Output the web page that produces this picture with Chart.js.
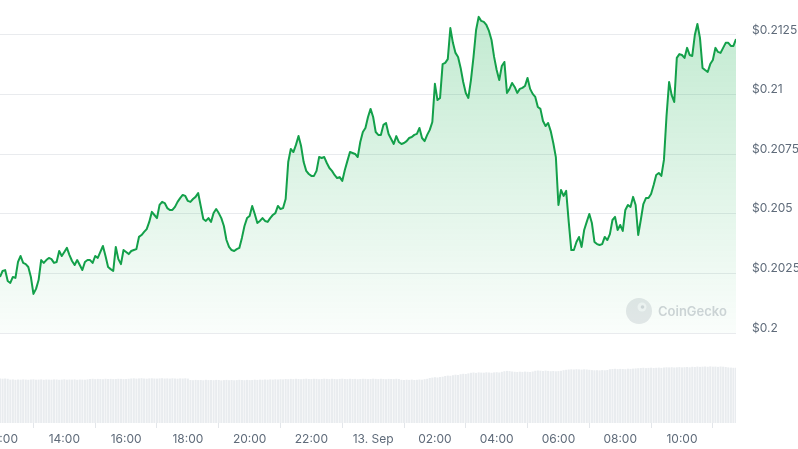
<!DOCTYPE html>
<html>
<head>
<meta charset="utf-8">
<script src="https://cdn.jsdelivr.net/npm/chart.js@4.4.1/dist/chart.umd.min.js"></script>
<style>
  html, body { margin: 0; padding: 0; background: #fff; }
  #wrap { width: 798px; height: 449px; }
</style>
</head>
<body>
<div id="wrap"><canvas id="priceChart" width="798" height="449"></canvas></div>
<script>
// 5-minute points, from 11:55 (12 Sep) to 11:45 (13 Sep), minutes since 12 Sep 00:00
const startMinute = 715;
const stepMinutes = 5;

const prices = [
  0.20235, 0.20260, 0.20264, 0.20218, 0.20210, 0.20235, 0.20231, 0.20298, 0.20323, 0.20294,
  0.20289, 0.20277, 0.20235, 0.20164, 0.20185, 0.20222, 0.20306, 0.20294, 0.20306, 0.20315,
  0.20310, 0.20294, 0.20298, 0.20344, 0.20323, 0.20340, 0.20357, 0.20327, 0.20302, 0.20285,
  0.20306, 0.20285, 0.20264, 0.20298, 0.20306, 0.20306, 0.20294, 0.20323, 0.20315, 0.20340,
  0.20365, 0.20323, 0.20277, 0.20268, 0.20260, 0.20361, 0.20310, 0.20289, 0.20348, 0.20340,
  0.20331, 0.20344, 0.20348, 0.20352, 0.20403, 0.20411, 0.20424, 0.20436, 0.20466, 0.20508,
  0.20495, 0.20482, 0.20537, 0.20550, 0.20545, 0.20524, 0.20516, 0.20516, 0.20529, 0.20550,
  0.20566, 0.20579, 0.20575, 0.20554, 0.20550, 0.20562, 0.20571, 0.20587, 0.20533, 0.20478,
  0.20470, 0.20482, 0.20466, 0.20503, 0.20520, 0.20503, 0.20482, 0.20449, 0.20390, 0.20361,
  0.20348, 0.20344, 0.20352, 0.20357, 0.20399, 0.20449, 0.20482, 0.20491, 0.20533, 0.20499,
  0.20461, 0.20470, 0.20482, 0.20470, 0.20466, 0.20482, 0.20495, 0.20503, 0.20533, 0.20520,
  0.20524, 0.20562, 0.20717, 0.20772, 0.20759, 0.20789, 0.20826, 0.20784, 0.20717, 0.20680,
  0.20667, 0.20659, 0.20659, 0.20680, 0.20738, 0.20734, 0.20738, 0.20713, 0.20692, 0.20680,
  0.20663, 0.20650, 0.20654, 0.20638, 0.20684, 0.20722, 0.20759, 0.20755, 0.20751, 0.20738,
  0.20801, 0.20843, 0.20860, 0.20906, 0.20940, 0.20906, 0.20843, 0.20831, 0.20831, 0.20873,
  0.20881, 0.20835, 0.20814, 0.20793, 0.20826, 0.20801, 0.20793, 0.20797, 0.20805, 0.20818,
  0.20822, 0.20831, 0.20835, 0.20860, 0.20818, 0.20805, 0.20831, 0.20852, 0.20885, 0.21045,
  0.20977, 0.20986, 0.21128, 0.21133, 0.21149, 0.21279, 0.21217, 0.21175, 0.21158, 0.21112,
  0.21053, 0.21007, 0.20986, 0.21061, 0.21158, 0.21271, 0.21326, 0.21309, 0.21305, 0.21292,
  0.21267, 0.21229, 0.21158, 0.21103, 0.21061, 0.21120, 0.21137, 0.21007, 0.21024, 0.21049,
  0.21032, 0.21007, 0.21024, 0.21028, 0.21036, 0.21070, 0.21024, 0.21003, 0.20990, 0.20948,
  0.20940, 0.20889, 0.20868, 0.20881, 0.20847, 0.20797, 0.20738, 0.20537, 0.20600, 0.20575,
  0.20596, 0.20466, 0.20348, 0.20348, 0.20382, 0.20403, 0.20361, 0.20432, 0.20466, 0.20499,
  0.20461, 0.20382, 0.20373, 0.20369, 0.20373, 0.20403, 0.20390, 0.20415, 0.20474, 0.20487,
  0.20432, 0.20453, 0.20428, 0.20516, 0.20537, 0.20529, 0.20571, 0.20537, 0.20411, 0.20474,
  0.20541, 0.20566, 0.20566, 0.20583, 0.20621, 0.20663, 0.20671, 0.20659, 0.20726, 0.20910,
  0.21053, 0.20998, 0.20969, 0.21154, 0.21170, 0.21166, 0.21154, 0.21196, 0.21166, 0.21162,
  0.21250, 0.21296, 0.21238, 0.21112, 0.21103, 0.21095, 0.21128, 0.21145, 0.21196, 0.21179,
  0.21175, 0.21196, 0.21217, 0.21217, 0.21204, 0.21204, 0.21233
];

// volume bars (relative units)
const volumes = [
  44.5, 44.3, 44.5, 44.2,
  43.4, 43.6, 43.2, 43.5, 43.3, 43.6, 43.4, 43.2, 43.5, 43.7, 43.3, 43.4, 43.6, 43.2, 43.5, 43.4,
  43.3, 43.6, 43.5, 43.2, 43.4, 43.7, 43.3, 43.5, 43.4, 43.6, 43.2, 43.5, 43.4, 43.3, 43.6,
  44.0, 44.2, 43.9, 44.1, 44.0, 43.8, 44.2, 44.0, 44.1, 43.9, 44.0, 44.2, 44.1, 43.9, 44.0, 44.2,
  44.5, 44.7, 44.4, 44.6, 44.8, 44.5, 44.3, 44.6, 44.7, 44.5, 44.4, 44.6, 44.8, 44.5, 44.6, 44.4,
  44.7, 44.5, 44.3, 44.6, 44.5, 44.7, 44.4,
  43.0, 42.8, 43.1, 42.9, 43.0, 42.7, 43.2, 42.9, 43.0, 42.8, 43.1, 43.0, 42.6, 42.9, 43.1, 42.8,
  43.0, 42.7, 42.9, 43.2, 43.0, 42.8, 43.1, 42.9, 43.0, 43.3, 43.1, 43.4, 43.2, 43.5, 43.3, 43.6,
  43.4, 43.7, 43.5, 43.8, 43.6,
  44.0, 43.8, 44.1, 43.9, 44.2, 44.0, 43.8, 44.1, 44.3, 44.0, 43.9, 44.2, 44.1, 43.8, 44.0, 44.3,
  44.1, 43.9, 44.2, 44.0, 43.8, 44.1, 44.3, 44.0, 43.9, 44.2, 44.0, 44.1, 43.8, 44.0, 44.2, 44.1,
  43.9, 44.0, 44.3, 44.1, 43.9, 44.2, 44.0, 43.8, 44.1, 44.0, 43.9, 44.2, 44.0,
  43.2, 43.0, 43.3, 43.1, 43.4, 43.0, 43.2, 43.5, 43.3, 43.8, 44.2,
  45.0, 45.4, 45.8, 45.5, 46.0, 46.3,
  47.0, 47.4, 47.2, 47.8, 48.3, 48.0, 48.8, 49.2, 49.0, 49.6,
  50.2, 50.5, 50.1, 50.6, 50.4, 50.3, 50.7, 50.5, 50.2, 50.6, 50.8, 50.5,
  51.2, 51.8, 52.1, 51.9, 51.5, 51.2, 51.0, 51.3, 51.1, 51.4, 51.2, 51.0, 51.5,
  52.2, 52.5, 52.3, 52.0, 52.4, 52.1, 51.8, 52.0, 51.7, 51.9, 52.2, 52.8, 53.2, 53.5,
  53.7, 53.5, 53.8, 53.6, 53.4, 53.7, 53.5, 53.2, 52.9, 52.7, 52.8, 52.6, 52.9, 52.7, 53.0,
  53.8, 54.0, 54.2, 53.9, 54.1, 54.0, 53.8, 54.3, 54.1, 54.4, 54.6, 54.8,
  55.0, 55.2, 54.9, 55.1, 55.3, 55.0, 55.2, 55.4, 55.1, 55.5, 55.7, 55.6, 55.8, 55.5, 55.7, 55.9,
  55.6, 55.8, 56.0, 55.7, 56.2, 56.0, 56.4, 56.1, 56.3, 56.5, 56.2, 56.6, 56.3, 56.4, 56.1, 56.5,
  56.3, 56.0, 55.6, 55.4, 55.2, 55.3
];

const priceTicks = [0.2, 0.2025, 0.205, 0.2075, 0.21, 0.2125];
const timeTicks = [720, 840, 960, 1080, 1200, 1320, 1440, 1560, 1680, 1800, 1920, 2040];
const timeLabels = ['12:00', '14:00', '16:00', '18:00', '20:00', '22:00', '13. Sep', '02:00', '04:00', '06:00', '08:00', '10:00'];

const priceMin = 0.196225;
const priceMax = 0.213968;
const fillBase = 0.2;

Chart.defaults.font.family = 'Inter, "Noto Sans", sans-serif';
Chart.defaults.font.size = 12;
Chart.defaults.color = '#5f6b7a';

// logo + name drawn under the line
const watermark = {
    id: 'watermark',
    beforeDatasetsDraw(chart) {
        const ctx = chart.ctx;
        const cx = chart.chartArea.right - 97;
        const cy = chart.scales.y.getPixelForValue(fillBase) - 22;
        ctx.save();
        ctx.beginPath();
        ctx.arc(cx, cy, 13, 0, Math.PI * 2);
        ctx.fillStyle = '#e6e8eb';
        ctx.fill();
        ctx.beginPath();
        ctx.arc(cx + 3, cy - 4, 4.5, 0, Math.PI * 2);
        ctx.fillStyle = '#f4f5f7';
        ctx.fill();
        ctx.beginPath();
        ctx.arc(cx + 3.5, cy - 4, 1.8, 0, Math.PI * 2);
        ctx.fillStyle = '#d3d6db';
        ctx.fill();
        ctx.font = '600 13px Inter, "Noto Sans", sans-serif';
        ctx.fillStyle = '#d2d5da';
        ctx.textBaseline = 'middle';
        ctx.textAlign = 'left';
        ctx.fillText('CoinGecko', cx + 19, cy + 1);
        ctx.restore();
    }
};

const ctx = document.getElementById('priceChart');

new Chart(ctx, {
    type: 'line',
    data: {
        datasets: [
            {
                type: 'line',
                label: 'Price',
                data: prices.map((p, i) => ({ x: startMinute + i * stepMinutes, y: p })),
                yAxisID: 'y',
                borderColor: '#13a04a',
                borderWidth: 2,
                borderJoinStyle: 'round',
                pointRadius: 0,
                tension: 0,
                fill: { value: fillBase },
                backgroundColor: (context) => {
                    const chart = context.chart;
                    const area = chart.chartArea;
                    if (!area) return 'rgba(0, 168, 62, 0.1)';
                    const bottom = chart.scales.y.getPixelForValue(fillBase);
                    const g = chart.ctx.createLinearGradient(0, area.top, 0, bottom);
                    g.addColorStop(0, 'rgba(0, 168, 62, 0.25)');
                    g.addColorStop(1, 'rgba(0, 168, 62, 0.02)');
                    return g;
                },
                order: 1
            },
            {
                type: 'bar',
                label: 'Volume',
                data: volumes.map((v, i) => ({ x: startMinute + i * stepMinutes, y: v })),
                yAxisID: 'vol',
                backgroundColor: '#e9ecef',
                barPercentage: 0.8,
                categoryPercentage: 1,
                order: 2
            }
        ]
    },
    options: {
        responsive: false,
        animation: false,
        devicePixelRatio: 1,
        layout: { padding: 0 },
        plugins: { legend: { display: false }, tooltip: { enabled: false } },
        scales: {
            x: {
                type: 'linear',
                min: startMinute,
                max: startMinute + (prices.length - 1) * stepMinutes,
                offset: false,
                border: { display: false },
                grid: { drawOnChartArea: false, drawTicks: true, tickLength: 5, color: '#e3e6ea' },
                afterBuildTicks: (axis) => { axis.ticks = timeTicks.map(v => ({ value: v })); },
                afterFit: (scale) => { scale.height = 26; scale.paddingLeft = 0; scale.paddingRight = 0; },
                ticks: {
                    padding: 4,
                    maxRotation: 0,
                    autoSkip: false,
                    callback: (value, index) => timeLabels[index]
                }
            },
            y: {
                position: 'right',
                min: priceMin,
                max: priceMax,
                border: { display: false },
                grid: { drawTicks: false, color: '#e9ebee' },
                afterBuildTicks: (axis) => { axis.ticks = priceTicks.map(v => ({ value: v })); },
                afterFit: (scale) => { scale.width = 62; scale.paddingTop = 0; scale.paddingBottom = 0; },
                ticks: {
                    padding: 16,
                    labelOffset: -5,
                    callback: v => '$' + Number(v.toFixed(4))
                }
            },
            vol: {
                display: false,
                min: 0,
                max: 423
            }
        }
    },
    plugins: [watermark]
});
</script>
</body>
</html>
